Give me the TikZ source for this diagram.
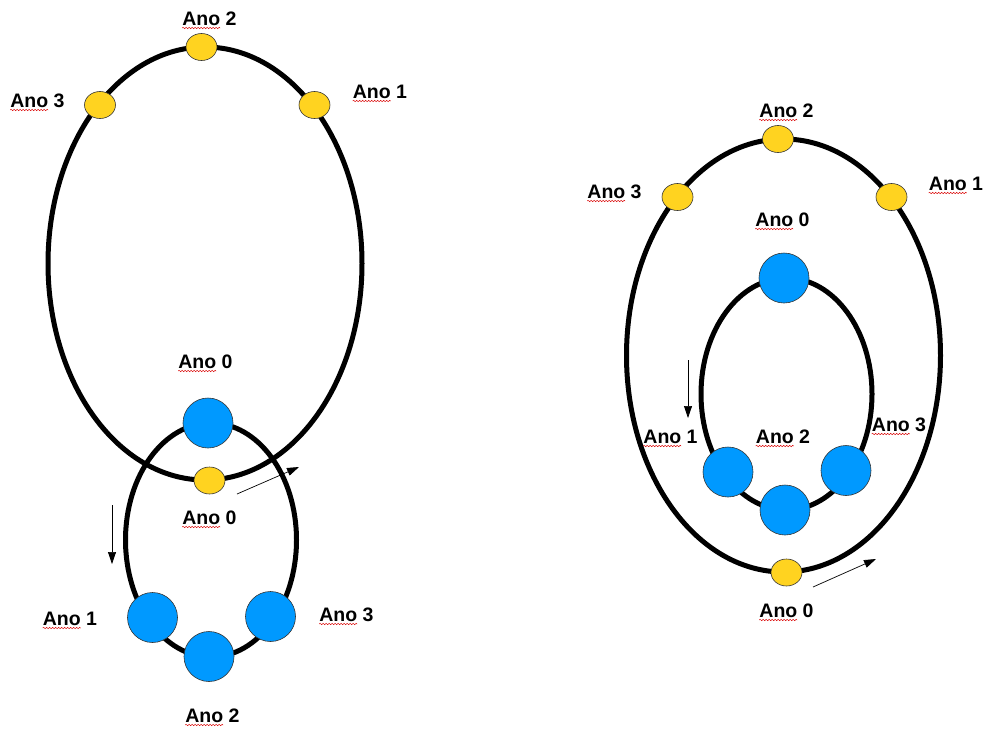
\documentclass[tikz,border=0pt]{standalone}
\usepackage{fontspec}
\setmainfont{Liberation Sans}
\usetikzlibrary{arrows.meta,decorations.pathmorphing,shapes.geometric}
\definecolor{bluefill}{RGB}{0,153,255}
\definecolor{goldfill}{RGB}{255,211,32}
\tikzset{
  orbit/.style={draw=black, line width=5pt},
  bluec/.style={circle, draw=black!80, line width=0.6pt, fill=bluefill, minimum size=50pt, inner sep=0pt},
  goldc/.style={ellipse, draw=black!80, line width=0.6pt, fill=goldfill, minimum width=31pt, minimum height=27pt, inner sep=0pt},
  lab/.style={font=\bfseries\fontsize{19.5}{20}\selectfont, inner sep=0pt, anchor=base},
  squig/.style={draw=red!85!black, line width=0.5pt, decorate, decoration={snake, amplitude=0.7pt, segment length=3pt}},
  motion/.style={draw=black, line width=0.7pt, -{Triangle[length=12pt,width=8pt]}}
}
\begin{document}
\begin{tikzpicture}[x=1pt,y=-1pt]
\useasboundingbox (0,0) rectangle (991,729);
% ---------- left diagram ----------
\draw[orbit] (205,263.5) ellipse [x radius=157pt, y radius=216.5pt];
\draw[orbit] (211,540) ellipse [x radius=85.5pt, y radius=117pt];
\node[goldc] (ly2) at (201.5,47) {};
\node[goldc] (ly3) at (100,105) {};
\node[goldc] (ly1) at (314.5,105) {};
\node[goldc] (ly0) at (209.5,480.5) {};
\node[bluec] (lb0) at (208,423) {};
\node[bluec] (lb1) at (152.5,617.5) {};
\node[bluec] (lb2) at (209,656.5) {};
\node[bluec] (lb3) at (270.5,616.5) {};
\node[lab] (lt2) at (209.5,25) {Ano 2};
\node[lab] (lt3) at (37.5,107) {Ano 3};
\node[lab] (lt1) at (380,98) {Ano 1};
\node[lab] (lt0a) at (205.5,368) {Ano 0};
\node[lab] (lt0b) at (209.5,524) {Ano 0};
\node[lab] (lb1t) at (70,625) {Ano 1};
\node[lab] (lb3t) at (346.5,621) {Ano 3};
\node[lab] (lb2t) at (212.5,722) {Ano 2};
\coordinate (la1s) at (112,505);
\coordinate (la1e) at (112,564);
\coordinate (la2s) at (237,494);
\coordinate (la2e) at (299,467);
\draw[motion] (la1s) -- (la1e);
\draw[motion] (la2s) -- (la2e);
% ---------- right diagram ----------
\draw[orbit] (783.5,355.5) ellipse [x radius=157pt, y radius=216.5pt];
\draw[orbit] (786.5,394) ellipse [x radius=85.5pt, y radius=116pt];
\node[goldc] (ry2) at (778,139) {};
\node[goldc] (ry3) at (677.5,197) {};
\node[goldc] (ry1) at (891.5,197) {};
\node[goldc] (ry0) at (786.5,572.5) {};
\node[bluec] (rb0) at (784,278) {};
\node[bluec] (rb1) at (728,472) {};
\node[bluec] (rb2) at (785,510) {};
\node[bluec] (rb3) at (846,470.5) {};
\node[lab] (rt2) at (786.5,117) {Ano 2};
\node[lab] (rt3) at (614.5,198) {Ano 3};
\node[lab] (rt1) at (956,190) {Ano 1};
\node[lab] (rt0a) at (782.5,226) {Ano 0};
\node[lab] (rt1b) at (670.5,443) {Ano 1};
\node[lab] (rt2b) at (783,443) {Ano 2};
\node[lab] (rt3b) at (899,431) {Ano 3};
\node[lab] (rt0b) at (786.5,617) {Ano 0};
\coordinate (ra1s) at (688,360);
\coordinate (ra1e) at (688,418);
\coordinate (ra2s) at (813,587);
\coordinate (ra2e) at (876,559);
\draw[motion] (ra1s) -- (ra1e);
\draw[motion] (ra2s) -- (ra2e);
% ---------- spell-check squiggles ----------
\foreach \n in {lt2,lt3,lt1,lt0a,lt0b,lb1t,lb3t,lb2t,rt2,rt3,rt1,rt0a,rt1b,rt2b,rt3b,rt0b}{
  \draw[squig] ([yshift=-3pt]\n.base west) -- ++(38,0);
}
\end{tikzpicture}
\end{document}
